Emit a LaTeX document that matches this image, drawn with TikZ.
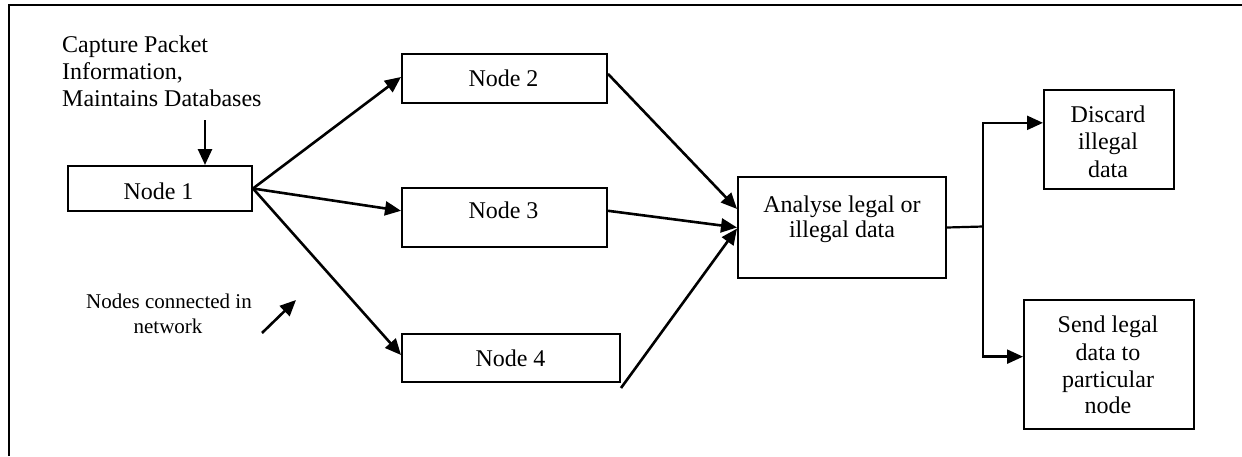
\documentclass[tikz,border=0pt]{standalone}
\usepackage{fontspec}
\setmainfont{Liberation Serif}
\usetikzlibrary{arrows.meta,calc}
\tikzset{
  boxnode/.style={draw, line width=2pt, inner sep=0pt, anchor=north west},
  txt/.style={inner sep=0pt, anchor=base, font=\fontsize{24}{27}\selectfont},
  smalltxt/.style={inner sep=0pt, anchor=base, font=\fontsize{21}{25}\selectfont},
  arr/.style={line width=2.6pt, -{Triangle[length=16pt,width=14pt]}},
  plainline/.style={line width=2.2pt},
  frameline/.style={line width=2.2pt}
}
\begin{document}
\begin{tikzpicture}[x=1pt,y=-1pt]
\useasboundingbox (0,0) rectangle (1242,456);
% frame
\coordinate (fL) at (9,456);
\coordinate (fC) at (9,5);
\coordinate (fR) at (1242,5);
\draw[frameline] (fL) -- (fC) -- (fR);

% boxes
\node[boxnode, minimum width=184pt, minimum height=45pt] (n1) at (67,165) {};
\node[boxnode, minimum width=205pt, minimum height=49pt] (n2) at (401,53) {};
\node[boxnode, minimum width=205pt, minimum height=59pt] (n3) at (401,187) {};
\node[boxnode, minimum width=218pt, minimum height=48pt] (n4) at (401,333) {};
\node[boxnode, minimum width=208pt, minimum height=101pt] (an) at (737,176) {};
\node[boxnode, minimum width=130pt, minimum height=99pt] (dc) at (1043,89) {};
\node[boxnode, minimum width=170pt, minimum height=129pt] (sd) at (1023,299) {};

% texts
\node[txt] (t1) at (158.5,199) {Node 1};
\node[txt] (t2) at (503.5,86) {Node 2};
\node[txt] (t3) at (503.5,218) {Node 3};
\node[txt] (t4) at (510.5,366) {Node 4};
\node[txt] (ta1) at (842,212) {Analyse legal or};
\node[txt] (ta2) at (842,237) {illegal data};
\node[txt] (td1) at (1108,122) {Discard};
\node[txt] (td2) at (1108,149.5) {illegal};
\node[txt] (td3) at (1108,177) {data};
\node[txt] (ts1) at (1108,332) {Send legal};
\node[txt] (ts2) at (1108,360) {data to};
\node[txt] (ts3) at (1108,387) {particular};
\node[txt] (ts4) at (1108,413) {node};
\node[txt, anchor=base west] (tc1) at (62,52) {Capture Packet};
\node[txt, anchor=base west] (tc2) at (62,79) {Information,};
\node[txt, anchor=base west] (tc3) at (62,106) {Maintains Databases};
\node[smalltxt] (tn1) at (169,308) {Nodes connected in};
\node[smalltxt] (tn2) at (168,333) {network};

% capture arrow
\coordinate (capA) at (205,120);
\draw[arr] (capA) -- (capA |- n1.north);

% node 1 fan-out
\coordinate (n1o) at ($(n1.north east)!0.5!(n1.south east)$);
\draw[arr] (n1o) -- ($(n2.north west)!0.47!(n2.south west)$);
\draw[arr] (n1o) -- ($(n3.north west)!0.39!(n3.south west)$);
\draw[arr] (n1o) -- ($(n4.north west)!0.44!(n4.south west)$);

% into analyse
\draw[arr] ($(n2.north east)!0.41!(n2.south east)$) -- ($(an.north west)!0.32!(an.south west)$);
\draw[arr] ($(n3.north east)!0.39!(n3.south east)$) -- ($(an.north west)!0.5!(an.south west)$);
\coordinate (n4o) at ($(n4.south east)+(0,5)$);
\draw[arr] (n4o) -- ($(an.north west)!0.51!(an.south west)$);

% network arrow
\coordinate (nwA) at (262,333);
\coordinate (nwB) at (296,300);
\draw[arr] (nwA) -- (nwB);

% split
\coordinate (jn) at (983,226.5);
\coordinate (jd) at ($(dc.north west)!0.335!(dc.south west)$);
\coordinate (js) at ($(sd.north west)!0.44!(sd.south west)$);
\draw[plainline] (an.east) -- (jn);
\draw[arr, line width=2.3pt] (jn) -- (jn |- jd) -- (jd);
\draw[arr, line width=2.3pt] (jn) -- (jn |- js) -- (js);
\end{tikzpicture}
\end{document}
